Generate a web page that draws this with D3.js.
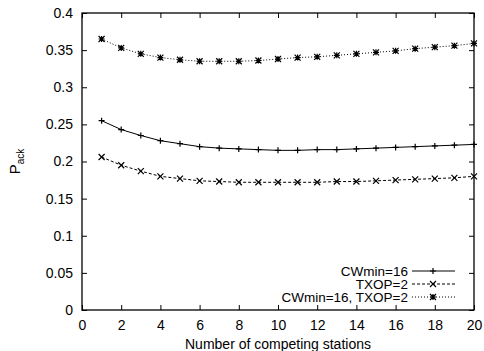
<!DOCTYPE html>
<html>
<head>
<meta charset="utf-8">
<script src="https://cdn.jsdelivr.net/npm/d3@7"></script>
<style>
  body { margin: 0; background: #fff; }
  text { font-family: "Liberation Sans", Arial, sans-serif; fill: #000; }
</style>
</head>
<body>
<div id="chart"></div>
<script>
var stations = d3.range(1, 21);

var cwmin16 = [0.255, 0.243, 0.235, 0.228, 0.224, 0.220, 0.218, 0.217, 0.216, 0.215,
  0.215, 0.216, 0.216, 0.217, 0.218, 0.219, 0.220, 0.221, 0.222, 0.223];
var txop2 = [0.206, 0.195, 0.187, 0.180, 0.177, 0.174, 0.173, 0.172, 0.172, 0.172,
  0.172, 0.172, 0.173, 0.173, 0.174, 0.175, 0.176, 0.177, 0.178, 0.180];
var both = [0.365, 0.353, 0.345, 0.340, 0.337, 0.335, 0.335, 0.335, 0.336, 0.338,
  0.340, 0.341, 0.343, 0.345, 0.347, 0.349, 0.352, 0.354, 0.356, 0.359];

var xTicks = [0, 2, 4, 6, 8, 10, 12, 14, 16, 18, 20];
var yTicks = [0, 0.05, 0.1, 0.15, 0.2, 0.25, 0.3, 0.35, 0.4];

var seriesNames = ["CWmin=16", "TXOP=2", "CWmin=16, TXOP=2"];
var seriesData = [cwmin16, txop2, both];
var dashes = [null, "3,2", "1,2"];
var markers = ["plus", "cross", "star"];

var width = 484, height = 351;
var margin = {top: 13, right: 10, bottom: 41, left: 82};
var w = width - margin.left - margin.right,
  h = height - margin.top - margin.bottom;

var fontSize = 14;

var svg = d3.select("#chart").append("svg")
  .attr("width", width)
  .attr("height", height);

var g = svg.append("g")
  .attr("transform", "translate(" + margin.left + "," + margin.top + ")");

var x = d3.scaleLinear().domain([0, 20]).range([0, w]);
var y = d3.scaleLinear().domain([0, 0.4]).range([h, 0]);

var fmtY = function(d) { return String(+d.toFixed(2)); };

// axes with inward ticks, mirrored on top/right
g.append("g").attr("transform", "translate(0," + h + ")")
  .call(d3.axisBottom(x).tickValues(xTicks).tickSizeInner(-5).tickSizeOuter(0).tickPadding(10))
  .call(function(a) { a.select(".domain").remove(); });
g.append("g")
  .call(d3.axisTop(x).tickValues(xTicks).tickSizeInner(-5).tickSizeOuter(0).tickFormat(""))
  .call(function(a) { a.select(".domain").remove(); });
g.append("g")
  .call(d3.axisLeft(y).tickValues(yTicks).tickSizeInner(-5).tickSizeOuter(0).tickPadding(9).tickFormat(fmtY))
  .call(function(a) { a.select(".domain").remove(); });
g.append("g").attr("transform", "translate(" + w + ",0)")
  .call(d3.axisRight(y).tickValues(yTicks).tickSizeInner(-5).tickSizeOuter(0).tickFormat(""))
  .call(function(a) { a.select(".domain").remove(); });

g.selectAll(".tick text").attr("font-size", fontSize).attr("font-family", "Liberation Sans, Arial, sans-serif").attr("fill", "#000");
g.selectAll(".tick line").attr("stroke", "#000");

g.append("rect")
  .attr("width", w).attr("height", h)
  .attr("fill", "none").attr("stroke", "#000").attr("stroke-width", 1.3);

function drawMarker(sel, type, cx, cy) {
  var s = 3;
  var p = "";
  if (type == "plus" || type == "star") {
    p += "M" + (cx - s) + "," + cy + "H" + (cx + s) + "M" + cx + "," + (cy - s) + "V" + (cy + s);
  }
  if (type == "cross" || type == "star") {
    p += "M" + (cx - s) + "," + (cy - s) + "L" + (cx + s) + "," + (cy + s) +
      "M" + (cx - s) + "," + (cy + s) + "L" + (cx + s) + "," + (cy - s);
  }
  sel.append("path").attr("d", p).attr("stroke", "#000").attr("stroke-width", 1.2).attr("fill", "none");
}

var line = d3.line()
  .x(function(d, i) { return x(stations[i]); })
  .y(function(d) { return y(d); });

seriesData.forEach(function(vals, k) {
  g.append("path")
    .datum(vals)
    .attr("d", line)
    .attr("fill", "none")
    .attr("stroke", "#000")
    .attr("stroke-width", 1)
    .attr("stroke-dasharray", dashes[k]);
  var mg = g.append("g");
  vals.forEach(function(v, i) {
    drawMarker(mg, markers[k], x(stations[i]), y(v));
  });
});

// legend
var legend = g.append("g");
seriesNames.forEach(function(name, k) {
  var ly = 271 - margin.top + k * 13;
  legend.append("text")
    .attr("x", 408 - margin.left)
    .attr("y", ly + 4.5)
    .attr("text-anchor", "end")
    .attr("font-size", 13.5)
    .text(name);
  legend.append("line")
    .attr("x1", 412 - margin.left).attr("x2", 455 - margin.left)
    .attr("y1", ly).attr("y2", ly)
    .attr("stroke", "#000").attr("stroke-width", 1)
    .attr("stroke-dasharray", dashes[k]);
  drawMarker(legend, markers[k], 433 - margin.left, ly);
});

svg.append("text")
  .attr("x", margin.left + w / 2)
  .attr("y", 349)
  .attr("text-anchor", "middle")
  .attr("font-size", fontSize)
  .text("Number of competing stations");

var yl = svg.append("text")
  .attr("transform", "translate(20," + (margin.top + h / 2) + ") rotate(-90)")
  .attr("text-anchor", "middle")
  .attr("font-size", 15);
yl.append("tspan").text("P");
yl.append("tspan").attr("font-size", 10).attr("dy", 3.5).text("ack");
</script>
</body>
</html>
